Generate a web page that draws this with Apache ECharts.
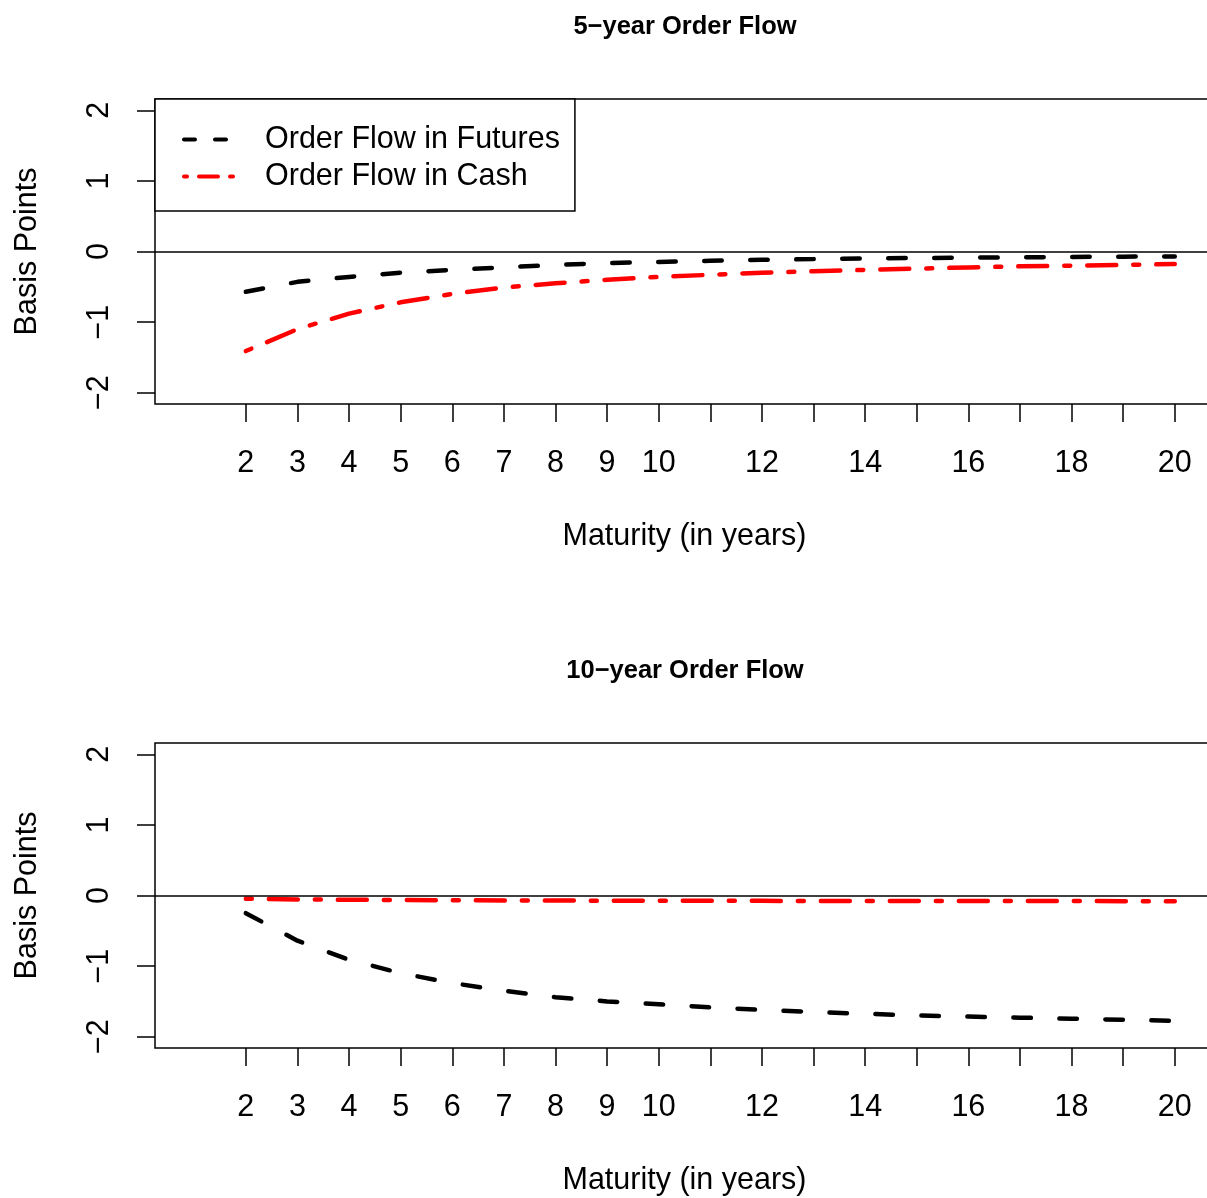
<!DOCTYPE html>
<html>
<head>
<meta charset="utf-8">
<script src="https://cdn.jsdelivr.net/npm/echarts@6/dist/echarts.min.js"></script>
<style>
  html, body { margin: 0; padding: 0; background: #fff; }
  #chart { width: 1207px; height: 1198px; }
</style>
</head>
<body>
<div id="chart"></div>
<script>
var maturities = [2, 3, 4, 5, 6, 7, 8, 9, 10, 11, 12, 13, 14, 15, 16, 17, 18, 19, 20];
var xTicks = [2, 3, 4, 5, 6, 7, 8, 9, 10, 11, 12, 13, 14, 15, 16, 17, 18, 19, 20];
var xLabels = [2, 3, 4, 5, 6, 7, 8, 9, 10, 12, 14, 16, 18, 20];
var yTicks = [-2, -1, 0, 1, 2];
var panelTitles = ['5\u2212year Order Flow', '10\u2212year Order Flow'];
var legendNames = ['Order Flow in Futures', 'Order Flow in Cash'];

// 5-year order flow shock
var futures5 = [-0.57, -0.43, -0.36, -0.30, -0.26, -0.225, -0.19, -0.165, -0.148, -0.132,
  -0.118, -0.108, -0.098, -0.092, -0.087, -0.082, -0.077, -0.073, -0.07];
var cash5 = [-1.41, -1.10, -0.88, -0.72, -0.60, -0.51, -0.45, -0.40, -0.36, -0.33,
  -0.30, -0.28, -0.26, -0.243, -0.225, -0.21, -0.20, -0.19, -0.178];

// 10-year order flow shock
var futures10 = [-0.25, -0.64, -0.91, -1.10, -1.24, -1.35, -1.44, -1.50, -1.54, -1.585,
  -1.62, -1.65, -1.675, -1.70, -1.715, -1.73, -1.745, -1.76, -1.775];
var cash10 = [-0.045, -0.055, -0.06, -0.065, -0.068, -0.07, -0.072, -0.073, -0.074, -0.075,
  -0.076, -0.077, -0.077, -0.078, -0.078, -0.079, -0.079, -0.08, -0.08];

var FONT = '"Liberation Sans", Arial, sans-serif';
var FS = 30.5;

function pairs(ys) {
  return maturities.map(function(x, i) { return [x, ys[i]]; });
}

var tops = [99, 743];

function makeGrid(top) {
  return {
    left: 155, top: top, width: 1059, height: 305,
    outerBoundsMode: 'none',
    show: true, borderColor: '#000', borderWidth: 1.5, backgroundColor: 'transparent'
  };
}

function makeX(i) {
  return {
    type: 'value', gridIndex: i, min: 0.24, max: 20.76,
    name: 'Maturity (in years)', nameLocation: 'middle', nameGap: 117,
    nameTextStyle: { fontFamily: FONT, fontSize: FS, color: '#000' },
    axisLine: { show: false, onZero: false },
    splitLine: { show: false },
    axisTick: { show: true, length: 18, customValues: xTicks,
      lineStyle: { color: '#000', width: 1.5 } },
    axisLabel: { customValues: xLabels, margin: 44,
      fontFamily: FONT, fontSize: FS, color: '#000' }
  };
}

function makeY(i) {
  return {
    type: 'value', gridIndex: i, min: -2.16, max: 2.16,
    name: 'Basis Points', nameLocation: 'middle', nameGap: 112, nameRotate: 90,
    nameTextStyle: { fontFamily: FONT, fontSize: FS, color: '#000' },
    axisLine: { show: false, onZero: false },
    splitLine: { show: false },
    axisTick: { show: true, length: 18, customValues: yTicks,
      lineStyle: { color: '#000', width: 1.5 } },
    axisLabel: { customValues: yTicks, rotate: 90, margin: 40,
      fontFamily: FONT, fontSize: FS, color: '#000',
      formatter: function(v) { return String(v).replace('-', '\u2212'); } }
  };
}

var futStyle = { color: '#000', width: 4.5, type: [17.5, 28.5], cap: 'round' };
var cashStyle = { color: '#ff0000', width: 4.5, type: [6, 17, 29, 17], cap: 'round' };

function makeSeries(name, ys, i, style, withZero) {
  var s = {
    name: name, type: 'line', xAxisIndex: i, yAxisIndex: i,
    data: pairs(ys), symbol: 'none', smooth: false,
    lineStyle: style, itemStyle: { color: style.color },
    animation: false, silent: true, z: 3
  };
  if (withZero) {
    s.markLine = {
      silent: true, symbol: ['none', 'none'], label: { show: false },
      lineStyle: { color: '#000', width: 1.5, type: 'solid' },
      data: [{ yAxis: 0 }], animation: false
    };
  }
  return s;
}

var option = {
  backgroundColor: '#fff',
  animation: false,
  title: panelTitles.map(function(t, i) {
    return {
      text: t, left: 680, top: tops[i] - 90, textAlign: 'center',
      textStyle: { fontFamily: FONT, fontSize: 25.5, fontWeight: 'bold', color: '#000' }
    };
  }),
  legend: {
    data: [
      { name: legendNames[0],
        lineStyle: { color: '#000', width: 4, type: [11, 20], cap: 'round' } },
      { name: legendNames[1],
        lineStyle: { color: '#ff0000', width: 4, type: [3, 12, 19, 12], cap: 'round' } }
    ],
    orient: 'vertical', left: 155, top: 99,
    padding: [25, 15, 19, 27], itemGap: 6, itemWidth: 51, itemHeight: 14,
    borderColor: '#000', borderWidth: 1.5, backgroundColor: '#fff',
    itemStyle: { opacity: 0 },
    textStyle: { fontFamily: FONT, fontSize: FS, color: '#000', padding: [0, 0, 0, 25] },
    selectedMode: false
  },
  grid: tops.map(makeGrid),
  xAxis: [makeX(0), makeX(1)],
  yAxis: [makeY(0), makeY(1)],
  series: [
    makeSeries(legendNames[0], futures5, 0, futStyle, true),
    makeSeries(legendNames[1], cash5, 0, cashStyle, false),
    makeSeries(legendNames[0], futures10, 1, futStyle, true),
    makeSeries(legendNames[1], cash10, 1, cashStyle, false)
  ]
};

var chart = echarts.init(document.getElementById('chart'), null, { renderer: 'canvas' });
chart.setOption(option);
</script>
</body>
</html>
